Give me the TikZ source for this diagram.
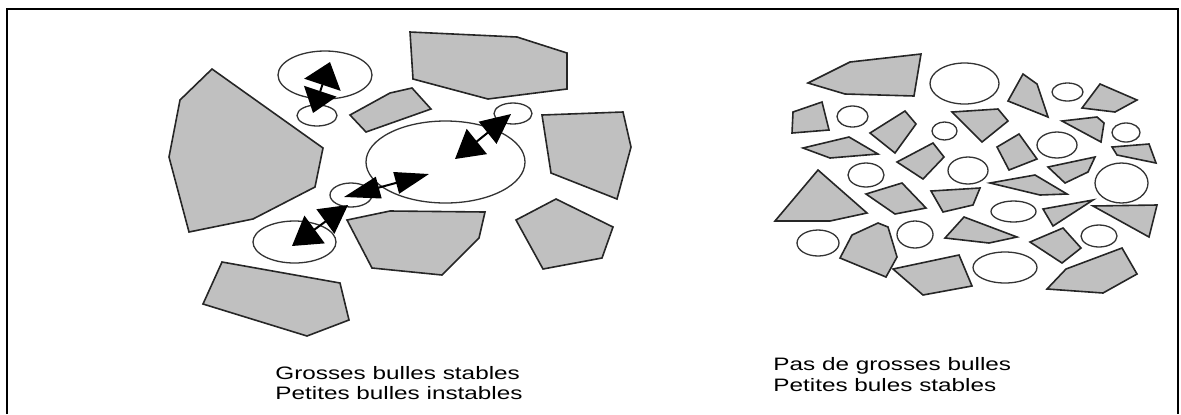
\documentclass[tikz,border=0pt]{standalone}
\usepackage{fontspec}
\newfontfamily\lblfont[FakeStretch=1.35]{Liberation Sans}
\usetikzlibrary{shapes.geometric,arrows.meta}
\definecolor{rockgray}{HTML}{C0C0C0}
\tikzset{
  rock/.style={fill=rockgray,draw=black!85,line width=0.8pt,line join=miter},
  bubble/.style={ellipse,draw=black!80,line width=0.65pt,inner sep=0pt,outer sep=0pt,fill=white},
  dbl/.style={line width=1pt,black},
  lbl/.style={font=\lblfont\fontsize{9pt}{10pt}\selectfont,inner sep=0pt,anchor=base west},
  frame/.style={line width=1.3pt,black}
}
\newcommand\bub[4]{\node[bubble,minimum width=#3pt,minimum height=#4pt] (#1) at (#2) {};}
\begin{document}
\begin{tikzpicture}[x=0.5pt,y=-0.5pt]
\useasboundingbox (0,0) rectangle (1181,414);
% frame
\draw[frame] (7,414) -- (7,9) -- (1178,9) -- (1178,414);

% ---------------- left cluster ----------------
\filldraw[rock] (212,69) -- (323,148) -- (315,187) -- (253,219) -- (189,232) -- (169,157) -- (180,100) -- cycle;
\filldraw[rock] (410,32) -- (517,37) -- (567,53) -- (567,89) -- (488,99) -- (413,79) -- cycle;
\filldraw[rock] (350,115) -- (390,93) -- (412,88) -- (431,109) -- (366,132) -- cycle;
\filldraw[rock] (542,115) -- (623,112) -- (631,147) -- (617,199) -- (551,173) -- cycle;
\filldraw[rock] (556,199) -- (613,227) -- (602,258) -- (543,269) -- (516,220) -- cycle;
\filldraw[rock] (347,220) -- (390,211) -- (485,212) -- (479,238) -- (442,275) -- (372,268) -- cycle;
\filldraw[rock] (222,262) -- (340,283) -- (349,320) -- (307,336) -- (203,304) -- cycle;

\bub{l1}{325,75}{47}{24}
\bub{l2}{317,115.5}{20}{10.5}
\bub{l3}{445.5,162}{79.5}{41}
\bub{l4}{513,113.5}{19}{10.5}
\bub{l5}{351,195}{21}{12}
\bub{l6}{294.5,242}{41.5}{21}

\coordinate (a1) at (330,62);
\coordinate (a2) at (313,113);
\coordinate (c1) at (455,159);
\coordinate (c2) at (511,114);
\coordinate (e1) at (344,197);
\coordinate (e2) at (429,174);
\coordinate (g1) at (292,246);
\coordinate (g2) at (348,205);
\draw[dbl,{Triangle[length=12pt,width=19pt]}-{Triangle[length=11.5pt,width=17pt]}] (a1) -- (a2);
\draw[dbl,{Triangle[length=14pt,width=16pt]}-{Triangle[length=15pt,width=14pt]}] (c1) -- (c2);
\draw[dbl,{Triangle[length=18pt,width=11pt]}-{Triangle[length=17pt,width=11pt]}] (e1) -- (e2);
\draw[dbl,{Triangle[length=14pt,width=17pt]}-{Triangle[length=14pt,width=15pt]}] (g1) -- (g2);

% ---------------- right cluster ----------------
\filldraw[rock] (808,83) -- (850,62) -- (921,54) -- (914,96) -- (845,94) -- cycle;
\filldraw[rock] (1023,74) -- (1037,84) -- (1048,117) -- (1008,101) -- cycle;
\filldraw[rock] (1100,84) -- (1137,100) -- (1115,112) -- (1082,108) -- cycle;
\filldraw[rock] (793,112) -- (822,102) -- (829,130) -- (792,133) -- cycle;
\filldraw[rock] (870,133) -- (905,111) -- (916,124) -- (895,153) -- cycle;
\filldraw[rock] (952,112) -- (998,109) -- (1008,121) -- (982,142) -- cycle;
\filldraw[rock] (1062,121) -- (1097,117) -- (1104,123) -- (1101,142) -- cycle;
\filldraw[rock] (803,148) -- (849,137) -- (878,154) -- (830,158) -- cycle;
\filldraw[rock] (897,162) -- (933,143) -- (944,157) -- (923,179) -- cycle;
\filldraw[rock] (997,147) -- (1019,134) -- (1037,159) -- (1009,170) -- cycle;
\filldraw[rock] (1112,147) -- (1149,144) -- (1156,163) -- (1117,155) -- cycle;
\filldraw[rock] (1048,167) -- (1095,157) -- (1088,172) -- (1065,183) -- cycle;
\filldraw[rock] (818,170) -- (867,213) -- (830,221) -- (775,221) -- cycle;
\filldraw[rock] (866,194) -- (902,183) -- (926,208) -- (895,214) -- cycle;
\filldraw[rock] (931,191) -- (980,188) -- (973,205) -- (943,212) -- cycle;
\filldraw[rock] (990,183) -- (1035,175) -- (1067,194) -- (1040,195) -- cycle;
\filldraw[rock] (1043,209) -- (1093,200) -- (1053,226) -- cycle;
\filldraw[rock] (1093,206) -- (1157,205) -- (1149,237) -- cycle;
\filldraw[rock] (840,258) -- (852,235) -- (878,223) -- (888,227) -- (897,257) -- (886,277) -- cycle;
\filldraw[rock] (945,238) -- (964,217) -- (1017,237) -- (989,243) -- cycle;
\filldraw[rock] (1030,242) -- (1063,228) -- (1081,248) -- (1062,263) -- cycle;
\filldraw[rock] (893,269) -- (959,255) -- (972,286) -- (923,295) -- cycle;
\filldraw[rock] (1047,289) -- (1066,269) -- (1122,248) -- (1137,274) -- (1103,293) -- cycle;

\bub{r1}{964.5,83.5}{34.5}{20.5}
\bub{r2}{1067.5,92}{15.5}{9}
\bub{r3}{852.5,116.5}{15.5}{10.5}
\bub{r4}{944.5,131}{12.5}{9}
\bub{r5}{1126,132.5}{14}{9.5}
\bub{r6}{968,170.5}{20}{13.5}
\bub{r7}{1057,145}{20}{13}
\bub{r8}{1121.5,183}{26.5}{20}
\bub{r9}{866,175}{18}{12}
\bub{r10}{1013.5,211.5}{22.5}{10.5}
\bub{r11}{818,243}{21}{13}
\bub{r12}{915,234.5}{18}{13.5}
\bub{r13}{1099,236}{18}{11}
\bub{r14}{1005,267.5}{32}{15.5}

% ---------------- labels ----------------
\node[lbl] (t1) at (275,379) {Grosses bulles stables};
\node[lbl] (t2) at (275,399) {Petites bulles instables};
\node[lbl] (t3) at (773,370) {Pas de grosses bulles};
\node[lbl] (t4) at (773,391) {Petites bules stables};
\end{tikzpicture}
\end{document}
